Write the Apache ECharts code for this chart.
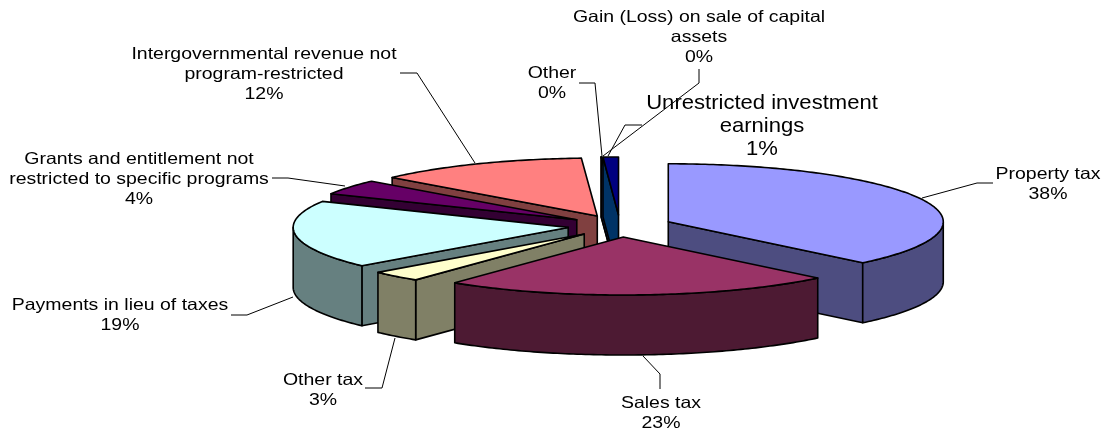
<!DOCTYPE html>
<html><head><meta charset="utf-8">
<style>html,body{margin:0;padding:0;background:#fff}#c{width:1106px;height:429px}</style>
<script src="https://cdn.jsdelivr.net/npm/echarts@6/dist/echarts.min.js"></script>
</head><body><div id="c"></div>
<script>
// Data, clockwise from twelve o'clock (shares in percent)
const categories = ['Property tax','Sales tax','Other tax','Payments in lieu of taxes',
  'Grants and entitlement not\nrestricted to specific programs',
  'Intergovernmental revenue not\nprogram-restricted','Other',
  'Gain (Loss) on sale of capital\nassets','Unrestricted investment\nearnings'];
const shares = [37.5,23.0,3.0,18.9,4.2,12.48,0.01,0.01,0.9];
const percentLabels = ['38%','23%','3%','19%','4%','12%','0%','0%','1%'];
const topColors = ['#9999FF','#993366','#FFFFCC','#CCFFFF','#660066','#FF8080','#FFFF99','#3366FF','#000080'];
const wallColors = ['#4D4D80','#4D1A33','#808066','#668080','#330033','#804040','#808050','#1A3380','#003366'];

// Drawing order and layout
const paintOrder = [6,7,8,5,4,3,2,0,1];
const pie = {cx:620, cy:226, rx:275, ry:58, depth:60, explode:0.19};
const labelLayout = [
  {x:1048,y:184,size:16.5,lh:20,sx:1.18},{x:661,y:413,size:16.5,lh:20,sx:1.18},{x:323,y:390,size:16.5,lh:20,sx:1.18},
  {x:120,y:315,size:16.5,lh:20,sx:1.18},{x:139,y:179,size:16.5,lh:20,sx:1.18},{x:264,y:74,size:16.5,lh:20,sx:1.18},
  {x:552,y:83,size:16.5,lh:20,sx:1.18},{x:699,y:37,size:16.5,lh:20,sx:1.18},{x:762,y:126,size:21,lh:23,sx:1.05}];
const leaders = [
  [[922,198],[977,183],[993,183]],[[643,356],[660,374],[660,389]],[[395,338],[382,388],[365,388]],
  [[293,297],[247,315],[231,315]],[[345,186],[288,178],[272,178]],[[475,163],[417,73],[400,73]],
  [[602,156],[595,83],[579,83]],[[603,156],[699,83],[699,69]],[[608,156],[625,125],[642,125]]];

const total = shares.reduce((a,b)=>a+b,0);
const starts = []; shares.reduce((a,v,i)=>(starts[i]=a,a+v),0);
const rad = p => p/total*2*Math.PI;
const onRim = (c,t) => [c[0]+pie.rx*Math.sin(t), c[1]-pie.ry*Math.cos(t)];
const down = p => [p[0],p[1]+pie.depth];
const face = (points,fill) => ({type:'polygon',shape:{points},
  style:{fill,stroke:'#000',lineWidth:1.6,lineJoin:'round'}});

function renderSlice(params, api){
  const i = api.value(0);
  const a = rad(starts[i]), b = rad(starts[i]+shares[i]), m=(a+b)/2;
  const c = [pie.cx+pie.explode*pie.rx*Math.sin(m), pie.cy-pie.explode*pie.ry*Math.cos(m)];
  const arc=[]; const n=Math.max(2,Math.ceil((b-a)/0.015));
  for(let k=0;k<=n;k++) arc.push(onRim(c,a+(b-a)*k/n));
  const children=[];
  const pa=arc[0], pb=arc[n];
  if(Math.sin(a)<0) children.push(face([c,pa,down(pa),down(c)],wallColors[i]));
  if(Math.sin(b)>0) children.push(face([c,pb,down(pb),down(c)],wallColors[i]));
  const lo=Math.max(a,Math.PI/2), hi=Math.min(b,Math.PI*1.5);
  if(hi>lo){
    const front=[]; const f=Math.ceil((hi-lo)/0.015);
    for(let k=0;k<=f;k++) front.push(onRim(c,lo+(hi-lo)*k/f));
    children.push(face(front.concat(front.slice().reverse().map(down)),wallColors[i]));
  }
  children.push(face([c].concat(arc),topColors[i]));
  return {type:'group',children};
}
function renderLabel(params, api){
  const i = api.value(0), l = labelLayout[i];
  return {type:'group',children:[
    {type:'polyline',shape:{points:leaders[i]},style:{fill:'none',stroke:'#000',lineWidth:1}},
    {type:'text',x:l.x,y:l.y,scaleX:l.sx,style:{text:categories[i]+'\n'+percentLabels[i],
      font:l.size+'px "Liberation Sans", Arial, sans-serif',lineHeight:l.lh,
      fill:'#000',align:'center',verticalAlign:'middle'}}
  ]};
}
const chart = echarts.init(document.getElementById('c'),null,{renderer:'canvas'});
chart.setOption({
  animation:false,backgroundColor:'#fff',
  series:[
    {type:'custom',coordinateSystem:'none',renderItem:renderSlice,data:paintOrder.map(i=>[i,shares[i]]),z:1,silent:true},
    {type:'custom',coordinateSystem:'none',renderItem:renderLabel,data:categories.map((n,i)=>[i,shares[i]]),z:2,silent:true}
  ]
});
</script></body></html>
